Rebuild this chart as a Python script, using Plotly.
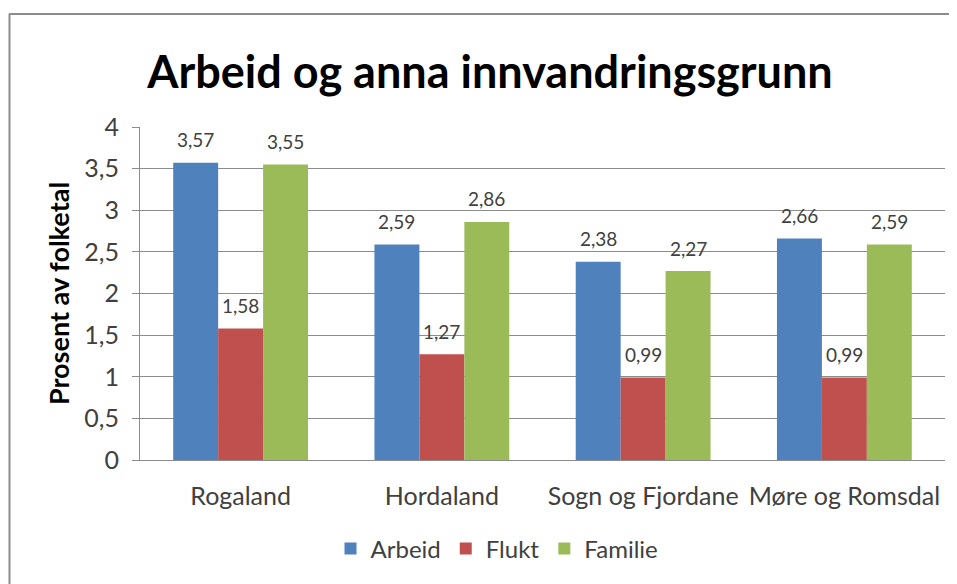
import plotly.graph_objects as go

# chart values
regions = ["Rogaland", "Hordaland", "Sogn og Fjordane", "Møre og Romsdal"]
arbeid = [3.57, 2.59, 2.38, 2.66]
flukt = [1.58, 1.27, 0.99, 0.99]
familie = [3.55, 2.86, 2.27, 2.59]
y_ticks = [0, 0.5, 1, 1.5, 2, 2.5, 3, 3.5, 4]
y_tick_text = ["0", "0,5", "1", "1,5", "2", "2,5", "3", "3,5", "4"]

series = [
    ("Arbeid", arbeid, "#4F81BD"),
    ("Flukt", flukt, "#C0504D"),
    ("Familie", familie, "#9BBB59"),
]

FONT = "Lato"
# the page body adds an 8px margin, so the figure is shrunk to avoid
# scrollbars and everything is placed 8px up/left
W, H = 949, 576
L, R, T, B = 132, 12, 119, 124
BARGAP = 0.33

fig = go.Figure()
for name, vals, col in series:
    fig.add_trace(go.Bar(
        name=name, x=regions, y=vals,
        marker=dict(color=col, line=dict(width=0)),
    ))

# value labels above every bar (shifted sideways to sit over each bar)
pw, ph = W - L - R, H - T - B
bar_w = pw / len(regions) * (1 - BARGAP) / len(series)
for i, (name, vals, col) in enumerate(series):
    for reg, v in zip(regions, vals):
        fig.add_annotation(
            x=reg, y=v, xref="x", yref="y",
            text=f"{v:.2f}".replace(".", ","),
            showarrow=False, xshift=(i - 1) * bar_w, yshift=23,
            font=dict(size=19, color="#404040", family=FONT),
        )

def px_x(p):
    return (p - L) / pw

def px_y(p):
    return (H - B - p) / ph

# outer frame of the chart: only the top and left edges show
frame = dict(type="line", xref="paper", yref="paper",
             line=dict(color="#8C8C8C", width=2), layer="below")
fig.add_shape(x0=px_x(1), x1=px_x(W), y0=px_y(6), y1=px_y(6), **frame)
fig.add_shape(x0=px_x(1.5), x1=px_x(1.5), y0=px_y(6), y1=px_y(H), **frame)

fig.update_layout(
    width=W, height=H,
    margin=dict(l=L, r=R, t=T, b=B, autoexpand=False),
    paper_bgcolor="white", plot_bgcolor="white",
    barmode="group", bargap=BARGAP, bargroupgap=0,
    font=dict(family=FONT, color="#404040"),
    title=dict(text="<b>Arbeid og anna innvandringsgrunn</b>",
               x=482 / W, xanchor="center",
               y=1 - 64 / H, yanchor="middle",
               font=dict(size=45, color="black", family=FONT)),
    yaxis=dict(range=[0, 4], tickvals=y_ticks, ticktext=y_tick_text,
               showgrid=True, gridcolor="#8C8C8C", gridwidth=1,
               showline=True, linecolor="#8C8C8C", linewidth=1,
               ticks="outside", ticklen=7, tickcolor="#8C8C8C",
               tickfont=dict(size=25, color="#404040"),
               ticklabelstandoff=8, zeroline=False, automargin=False,
               title=dict(text="<b>Prosent av folketal</b>", standoff=6,
                          font=dict(size=27, color="black"))),
    xaxis=dict(showline=True, linecolor="#8C8C8C", linewidth=1,
               tickfont=dict(size=25, color="#404040"), ticks="",
               ticklabelstandoff=14, automargin=False),
    legend=dict(orientation="h", xref="container", yref="container",
                x=489 / W, xanchor="center",
                y=1 - 541 / H, yanchor="middle",
                font=dict(size=24, color="#404040"), itemwidth=30),
)

fig.write_html("out.html")
